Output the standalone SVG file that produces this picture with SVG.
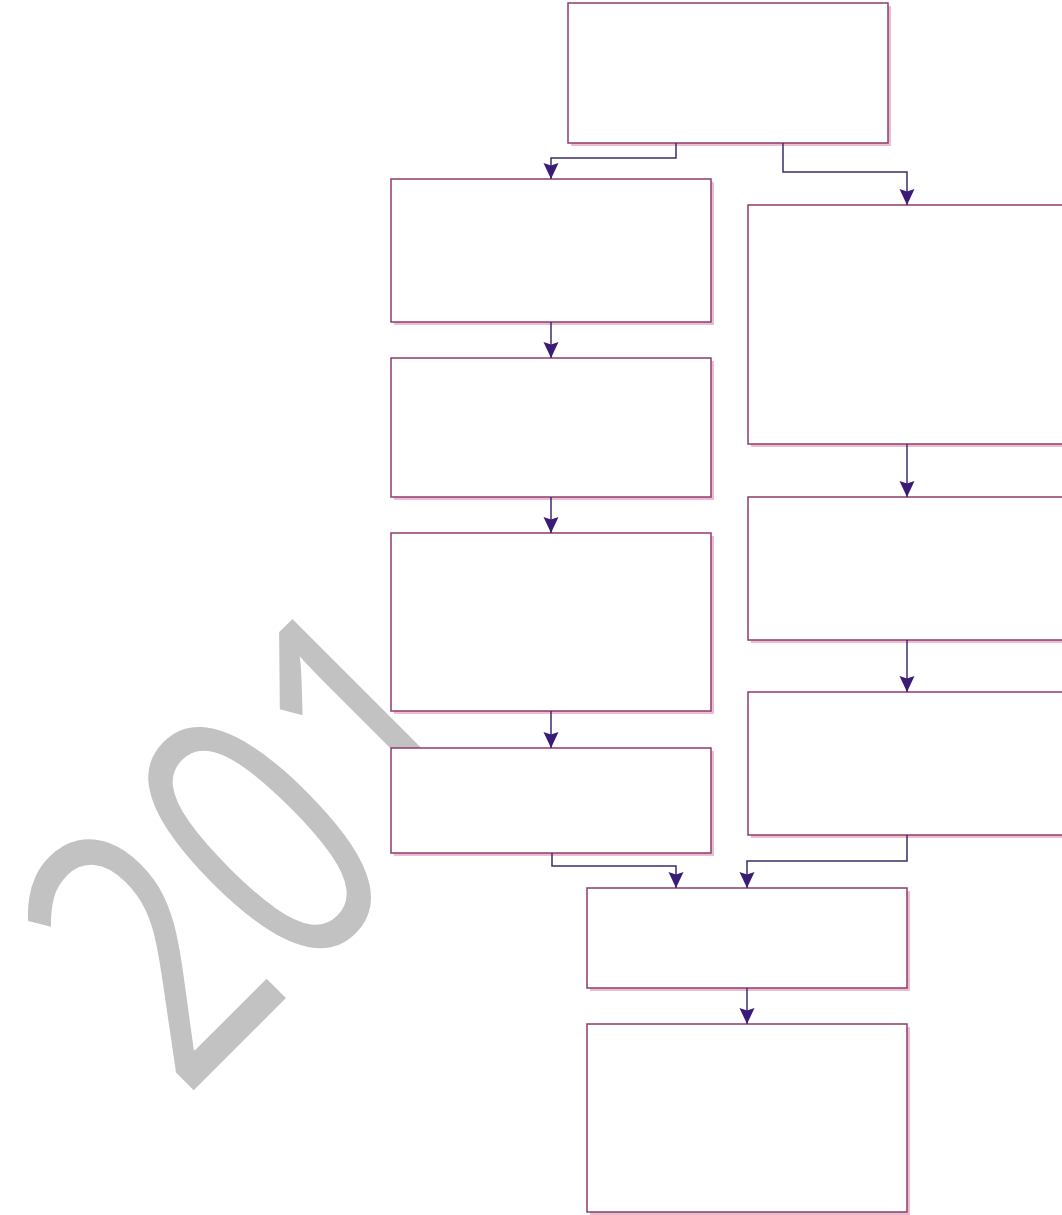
<svg xmlns="http://www.w3.org/2000/svg" width="1062" height="1215" viewBox="0 0 1062 1215">
<style>
.box{fill:#ffffff;stroke:#8e3b6b;stroke-width:1.5}
.sh{fill:#ecbcd0}
.wm{fill:#c2c2c2;font-family:"Open Sans","Liberation Sans",sans-serif;font-weight:400}
.cn{fill:none;stroke:#3b2d6b;stroke-width:1.5}
</style>
<defs>
<marker id="ah" viewBox="0 0 16 16" refX="16" refY="8" markerWidth="16" markerHeight="16" markerUnits="userSpaceOnUse" orient="auto">
<path d="M0,0.5 L16,8 L0,15.5 L2.5,8 z" fill="#3a1c78"/>
</marker>
</defs>
<rect width="1062" height="1215" fill="#ffffff"/>
<g id="watermark">
<text class="wm" font-size="410" transform="translate(184,1100) rotate(-45) scale(0.68,0.9)">201</text>
</g>
<g id="n-top"><rect class="sh" x="571" y="6" width="320" height="140"/><rect class="box" x="568" y="3" width="320" height="140"/></g>
<g id="n-l1"><rect class="sh" x="394" y="182" width="320" height="143"/><rect class="box" x="391" y="179" width="320" height="143"/></g>
<g id="n-l2"><rect class="sh" x="394" y="361" width="320" height="139"/><rect class="box" x="391" y="358" width="320" height="139"/></g>
<g id="n-l3"><rect class="sh" x="394" y="536" width="320" height="178"/><rect class="box" x="391" y="533" width="320" height="178"/></g>
<g id="n-l4"><rect class="sh" x="394" y="751" width="320" height="105"/><rect class="box" x="391" y="748" width="320" height="105"/></g>
<g id="n-r1"><rect class="sh" x="751" y="208" width="320" height="239"/><rect class="box" x="748" y="205" width="320" height="239"/></g>
<g id="n-r2"><rect class="sh" x="751" y="500" width="320" height="143"/><rect class="box" x="748" y="497" width="320" height="143"/></g>
<g id="n-r3"><rect class="sh" x="751" y="695" width="320" height="143"/><rect class="box" x="748" y="692" width="320" height="143"/></g>
<g id="n-b1"><rect class="sh" x="590" y="891" width="320" height="100"/><rect class="box" x="587" y="888" width="320" height="100"/></g>
<g id="n-b2"><rect class="sh" x="590" y="1027" width="320" height="188"/><rect class="box" x="587" y="1024" width="320" height="188"/></g>
<g id="connectors">
<path class="cn" marker-end="url(#ah)" d="M676,143 V158 H551 V179"/>
<path class="cn" marker-end="url(#ah)" d="M783,143 V172 H907 V205"/>
<path class="cn" marker-end="url(#ah)" d="M551,322 V358"/>
<path class="cn" marker-end="url(#ah)" d="M551,497 V533"/>
<path class="cn" marker-end="url(#ah)" d="M551,711 V748"/>
<path class="cn" marker-end="url(#ah)" d="M907,444 V497"/>
<path class="cn" marker-end="url(#ah)" d="M907,640 V692"/>
<path class="cn" marker-end="url(#ah)" d="M552,853 V866 H676 V888"/>
<path class="cn" marker-end="url(#ah)" d="M907,835 V861 H747 V888"/>
<path class="cn" marker-end="url(#ah)" d="M747,988 V1024"/>
</g>
</svg>
